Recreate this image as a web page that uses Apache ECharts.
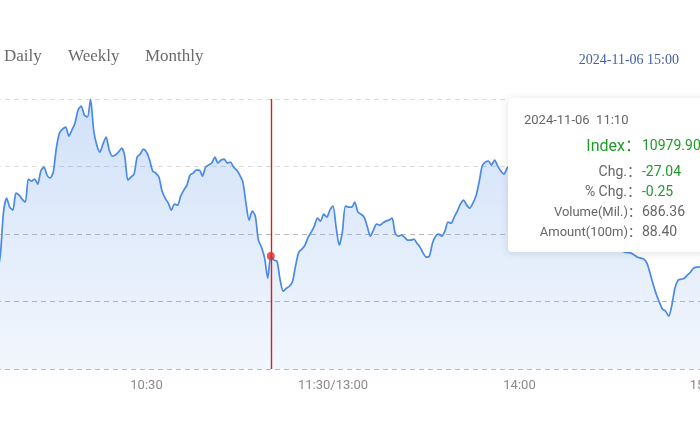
<!DOCTYPE html>
<html><head><meta charset="utf-8">
<script src="https://cdn.jsdelivr.net/npm/echarts@6/dist/echarts.min.js"></script>
<style>html,body{margin:0;padding:0;overflow:hidden;background:#fff}#c{width:700px;height:441px}</style>
</head><body><div id="c"></div>
<script>
const tradeDate = '2024-11-06';
const headerTime = '15:00';
const tabs = ['Daily', 'Weekly', 'Monthly'];
const prevClose = 11006.94;
const yHalfRange = 166;
const tickIndex = [0, 60, 120, 180, 240];
const tickText = ['09:30', '10:30', '11:30/13:00', '14:00', '15:00'];
const indexValues = [
 11004.29, 10999.37, 10989.52, 10984.60, 10977.21, 10972.29, 10967.36, 10962.44, 10959.98, 10955.05,
 10950.13, 10952.59, 10959.98, 10982.14, 11033.84, 11051.07, 11039.99, 11036.30, 11057.23, 11054.76,
 11049.84, 11046.15, 11074.46, 11072.00, 11074.46, 11068.31, 11084.31, 11089.23, 11079.38, 11075.69,
 11083.08, 11112.62, 11131.09, 11136.01, 11138.47, 11127.39, 11134.78, 11143.40, 11159.40, 11164.32,
 11153.24, 11150.78, 11172.50, 11134.78, 11116.31, 11107.70, 11117.55, 11126.16, 11110.16, 11102.77,
 11104.00, 11107.70, 11112.62, 11102.77, 11073.23, 11076.92, 11080.62, 11101.54, 11105.24, 11111.39,
 11107.70, 11097.85, 11084.31, 11081.85, 11076.92, 11059.69, 11051.07, 11044.92, 11036.30, 11043.69,
 11042.45, 11053.53, 11060.92, 11067.07, 11079.38, 11081.85, 11085.54, 11085.54, 11078.15, 11089.23,
 11091.69, 11094.16, 11101.54, 11094.16, 11097.85, 11099.08, 11094.16, 11095.39, 11089.23, 11085.54,
 11079.38, 11070.77, 11044.92, 11023.99, 11035.07, 11028.91, 10999.37, 10990.75, 10977.21, 10952.59,
 10979.90, 10974.75, 10973.52, 10950.13, 10936.59, 10940.28, 10942.74, 10948.90, 10968.59, 10984.60,
 10988.29, 10993.21, 11003.06, 11009.22, 11016.60, 11026.45, 11022.76, 11031.38, 11027.68, 11036.30,
 11041.22, 11015.37, 10993.21, 11009.22, 11041.22, 11039.99, 11039.99, 11046.15, 11033.84, 11031.38,
 11027.68, 11016.60, 11004.29, 11011.68, 11019.07, 11017.83, 11020.30, 11022.76, 11023.99, 11026.45,
 11007.99, 11004.29, 11005.52, 11003.06, 10999.37, 10999.37, 11000.60, 10995.68, 10990.75, 10983.37,
 10978.44, 10979.67, 10995.68, 11004.29, 11006.76, 11004.29, 11010.45, 11021.53, 11020.30, 11027.68,
 11035.07, 11043.69, 11048.61, 11042.45, 11038.76, 11044.92, 11053.53, 11070.77, 11090.46, 11095.39,
 11096.62, 11091.69, 11097.85, 11090.46, 11084.31, 11080.62, 11088.00, 11091.69, 11097.85, 11100.31,
 11104.00, 11107.70, 11102.77, 11110.16, 11113.85, 11108.93, 11104.00, 11100.31, 11095.39, 11097.85,
 11090.46, 11083.08, 11078.15, 11073.23, 11067.07, 11060.92, 11054.76, 11052.30, 11044.92, 11036.30,
 11030.14, 11022.76, 11016.60, 11011.68, 11007.99, 11004.29, 10999.37, 10995.68, 10993.21, 10990.75,
 10989.52, 10988.29, 10987.06, 10985.83, 10984.60, 10984.10, 10983.37, 10980.90, 10978.44, 10977.21,
 10975.98, 10971.06, 10958.75, 10945.21, 10932.90, 10923.05, 10914.43, 10911.97, 10905.82, 10919.35,
 10940.28, 10950.13, 10951.36, 10952.59, 10956.28, 10959.98, 10964.90, 10966.13, 10966.50, 10967.36,
 10968.59
];
const tipIndex = 100;
const tipVolume = 686.36;
const tipAmount = 88.40;

// trading minutes: 09:30-11:30, 13:01-15:00
const times = [];
function hm(t) { return String(Math.floor(t / 60)).padStart(2, '0') + ':' + String(t % 60).padStart(2, '0'); }
for (let t = 9 * 60 + 30; t <= 11 * 60 + 30; t++) times.push(hm(t));
for (let t = 13 * 60 + 1; t <= 15 * 60; t++) times.push(hm(t));

const chart = echarts.init(document.getElementById('c'), null, { renderer: 'canvas' });

const GREEN = '#1f9a2a';
const RED = '#d8201b';
function row(label, value, h, labelColor, valueColor, labelSize, valueSize) {
  return '<div style="display:flex;align-items:center;height:' + h + 'px;">' +
    '<span style="display:inline-block;width:117px;text-align:right;color:' + labelColor + ';font-size:' + labelSize + 'px;">' + label + '</span>' +
    '<span style="padding-left:1px;color:' + valueColor + ';font-size:' + valueSize + 'px;">' + value + '</span></div>';
}

chart.setOption({
  animation: false,
  grid: { left: -40, right: -6, top: 99, bottom: 72, outerBoundsMode: 'none', containLabel: false },
  graphic: [
    { type: 'text', x: 4, y: 57, style: { text: tabs[0], font: '17px "Liberation Serif"', fill: '#6a6a6a', verticalAlign: 'middle' } },
    { type: 'text', x: 68, y: 57, style: { text: tabs[1], font: '17px "Liberation Serif"', fill: '#6a6a6a', verticalAlign: 'middle' } },
    { type: 'text', x: 145, y: 57, style: { text: tabs[2], font: '17px "Liberation Serif"', fill: '#6a6a6a', verticalAlign: 'middle' } },
    { type: 'text', x: 679, y: 60.5, style: { text: tradeDate + ' ' + headerTime, font: '14px "Liberation Serif"', fill: '#44609e', align: 'right', verticalAlign: 'middle' } }
  ],
  tooltip: {
    trigger: 'axis',
    triggerOn: 'none',
    alwaysShowContent: true,
    position: [508, 98],
    transitionDuration: 0,
    padding: 0,
    backgroundColor: '#ffffff',
    borderWidth: 0,
    extraCssText: 'box-shadow:0 1px 8px rgba(0,0,0,0.12);border-radius:4px;',
    axisPointer: { type: 'none' },
    formatter: function () {
      const v = indexValues[tipIndex];
      const chg = v - prevClose;
      const pct = chg / prevClose * 100;
      return '<div style="font-family:Roboto,\'Noto Sans CJK SC\',sans-serif;padding:12px 16px 11px 16px;width:210px;color:#666;font-size:13px;">' +
        '<div style="height:20px;line-height:20px;">' + tradeDate + '&nbsp;&nbsp;' + times[tipIndex] + '</div>' +
        row('Index：', v.toFixed(2), 31, GREEN, GREEN, 16, 14) +
        row('Chg.：', chg.toFixed(2), 20, '#666', GREEN, 14, 14) +
        row('% Chg.：', pct.toFixed(2), 20, '#666', GREEN, 14, 14) +
        row('Volume(Mil.)：', tipVolume.toFixed(2), 20, '#666', '#666', 13, 14) +
        row('Amount(100m)：', tipAmount.toFixed(2), 20, '#666', '#666', 13, 14) +
        '</div>';
    }
  },
  xAxis: {
    type: 'category',
    data: times,
    boundaryGap: false,
    axisLine: { show: false },
    axisTick: { show: false },
    splitLine: { show: false },
    axisLabel: {
      interval: function (i) { return tickIndex.indexOf(i) >= 0; },
      formatter: function (v, i) { const k = tickIndex.indexOf(i); return k >= 0 ? tickText[k] : ''; },
      color: '#8a8a8a', fontSize: 13, fontFamily: 'Roboto', margin: 10
    }
  },
  yAxis: [
    { type: 'value', min: prevClose - yHalfRange, max: prevClose + yHalfRange, show: false, splitLine: { show: false } },
    {
      type: 'value', min: -yHalfRange, max: yHalfRange, interval: yHalfRange / 2,
      axisLabel: { show: false }, axisLine: { show: false }, axisTick: { show: false },
      splitLine: { show: true, lineStyle: { type: [5, 4], width: 1, color: ['#b9b9b9', '#b9b9b9', '#b9b9b9', '#dcdcdc', '#dcdcdc'] } }
    }
  ],
  series: [
    {
      type: 'line', data: indexValues, yAxisIndex: 0, symbol: 'none', smooth: 0.25,
      emphasis: { disabled: true },
      lineStyle: { color: '#4a89e6', width: 1.7 },
      areaStyle: {
        color: new echarts.graphic.LinearGradient(0, 0, 0, 1, [
          { offset: 0, color: 'rgba(74,137,230,0.36)' },
          { offset: 1, color: 'rgba(74,137,230,0.10)' }
        ])
      },
      markLine: {
        silent: true, symbol: 'none', label: { show: false },
        emphasis: { disabled: true },
        lineStyle: { color: RED, width: 1.4, type: 'solid', opacity: 1 },
        data: [{ xAxis: times[tipIndex] }]
      }
    },
    {
      type: 'scatter', yAxisIndex: 0, data: [[tipIndex, indexValues[tipIndex]]], symbolSize: 8, z: 10,
      emphasis: { disabled: true },
      itemStyle: { color: '#e2302b' }
    }
  ]
});
chart.dispatchAction({ type: 'showTip', seriesIndex: 0, dataIndex: tipIndex });
</script>
</body></html>
